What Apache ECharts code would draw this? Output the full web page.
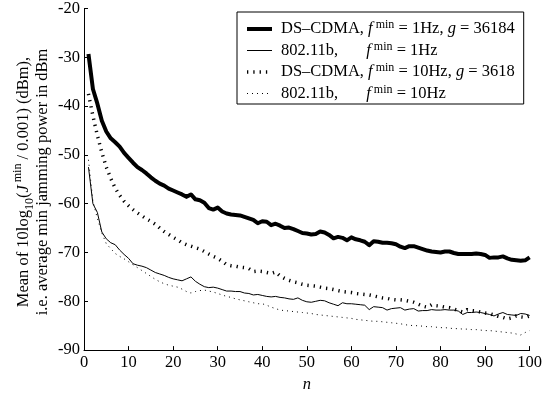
<!DOCTYPE html>
<html><head><meta charset="utf-8">
<script src="https://cdn.jsdelivr.net/npm/echarts@6/dist/echarts.min.js"></script>
<style>html,body{margin:0;padding:0;background:#fff}#c{width:545px;height:398px}</style>
</head><body><div id="c"></div>
<script>
const nValues = [1,2,3,4,5,6,7,8,9,10,11,12,13,14,15,16,17,18,19,20,21,22,23,24,25,26,27,28,29,30,31,32,33,34,35,36,37,38,39,40,41,42,43,44,45,46,47,48,49,50,51,52,53,54,55,56,57,58,59,60,61,62,63,64,65,66,67,68,69,70,71,72,73,74,75,76,77,78,79,80,81,82,83,84,85,86,87,88,89,90,91,92,93,94,95,96,97,98,99,100];

const dsCdma1Hz = [-29.3,-36.5,-39.5,-43.0,-45.2,-46.6,-47.4,-48.3,-49.6,-50.6,
  -51.6,-52.5,-53.1,-53.8,-54.6,-55.3,-55.9,-56.3,-56.9,-57.3,
  -57.7,-58.1,-58.6,-58.1,-59.1,-59.3,-59.8,-60.9,-61.2,-60.8,
  -61.6,-62.0,-62.2,-62.3,-62.4,-62.7,-63.0,-63.3,-64.0,-63.6,
  -63.7,-64.4,-64.1,-64.5,-65.0,-64.9,-65.2,-65.6,-66.0,-66.1,
  -66.3,-66.2,-65.7,-65.9,-66.4,-67.1,-66.8,-67.0,-67.5,-66.9,
  -67.3,-67.5,-67.8,-68.5,-67.7,-67.8,-68.0,-68.0,-68.1,-68.3,
  -68.8,-69.1,-68.7,-68.7,-69.0,-69.3,-69.6,-69.8,-69.9,-70.0,
  -69.8,-69.8,-70.1,-70.3,-70.3,-70.3,-70.3,-70.2,-70.3,-70.5,
  -71.1,-71.0,-71.0,-70.8,-71.2,-71.5,-71.6,-71.7,-71.6,-71.0];

const wlan1Hz = [-52.5,-60.0,-61.8,-65.8,-67.2,-68.0,-68.4,-69.5,-70.4,-71.2,
  -72.3,-72.6,-72.8,-73.1,-73.6,-74.1,-74.4,-74.7,-75.1,-75.4,
  -75.6,-75.8,-75.4,-75.0,-75.9,-76.5,-77.0,-77.2,-77.1,-77.3,
  -77.6,-77.9,-77.9,-78.0,-78.0,-78.3,-78.4,-78.7,-78.6,-78.8,
  -79.0,-79.1,-79.0,-79.2,-79.3,-79.5,-79.6,-79.3,-79.8,-80.1,
  -80.2,-80.0,-79.8,-79.9,-80.3,-80.6,-80.9,-80.3,-80.5,-80.5,
  -80.6,-80.7,-80.8,-81.7,-81.1,-81.2,-81.3,-81.8,-81.5,-81.4,
  -81.3,-81.8,-81.6,-81.5,-82.0,-81.9,-81.9,-81.7,-81.8,-81.8,
  -81.7,-81.8,-81.8,-82.0,-82.7,-82.3,-82.3,-82.2,-82.3,-82.5,
  -82.7,-83.0,-82.6,-82.3,-82.7,-82.8,-82.9,-82.5,-82.6,-82.9];

const dsCdma10Hz = [-37.5,-42.0,-46.0,-49.5,-52.5,-54.8,-56.8,-58.3,-59.5,-60.4,
  -61.2,-61.9,-62.5,-63.1,-63.6,-64.2,-65.0,-65.7,-66.3,-66.9,
  -67.4,-68.0,-68.4,-68.7,-69.0,-69.3,-69.8,-70.3,-70.8,-71.2,
  -71.8,-72.5,-72.7,-72.8,-73.0,-73.1,-73.3,-73.9,-73.8,-73.9,
  -74.1,-74.3,-74.0,-74.8,-75.3,-75.7,-76.0,-76.2,-76.5,-76.7,
  -76.8,-76.9,-77.1,-77.3,-77.4,-77.6,-77.8,-78.0,-78.1,-78.2,
  -78.4,-78.5,-78.6,-78.7,-78.9,-79.1,-79.3,-79.4,-79.6,-79.7,
  -79.7,-79.8,-80.0,-80.2,-80.6,-81.0,-81.2,-80.7,-80.9,-81.0,
  -81.2,-81.3,-81.6,-81.9,-82.2,-81.7,-81.9,-82.0,-82.2,-82.4,
  -82.5,-82.8,-83.1,-83.3,-83.6,-83.4,-83.0,-83.2,-83.3,-83.0];

const wlan10Hz = [-51.0,-59.5,-63.0,-66.0,-68.2,-69.2,-70.2,-70.8,-71.3,-71.9,
  -72.5,-73.1,-73.7,-74.3,-74.9,-75.5,-76.0,-76.4,-76.7,-76.9,
  -77.1,-77.5,-78.0,-78.3,-78.0,-77.8,-77.7,-77.9,-78.1,-78.4,
  -78.7,-79.0,-79.2,-79.5,-79.7,-79.9,-80.1,-80.3,-80.5,-80.5,
  -80.8,-81.2,-81.5,-81.8,-81.9,-82.0,-82.1,-82.2,-82.3,-82.4,
  -82.5,-82.7,-82.8,-82.9,-83.0,-83.1,-83.2,-83.3,-83.4,-83.5,
  -83.7,-83.8,-83.9,-84.0,-84.1,-84.1,-84.2,-84.3,-84.4,-84.5,
  -84.6,-84.8,-84.9,-85.0,-85.0,-85.1,-85.2,-85.2,-85.3,-85.4,
  -85.4,-85.5,-85.6,-85.6,-85.7,-85.7,-85.8,-85.8,-85.9,-86.0,
  -86.0,-86.1,-86.2,-86.3,-86.4,-86.5,-86.7,-86.9,-86.4,-86.0];

const seriesNames = ['DS-CDMA 1Hz', '802.11b 1Hz', 'DS-CDMA 10Hz', '802.11b 10Hz'];
const legendLabels = {
  'DS-CDMA 1Hz': '{t|DS\u2013CDMA, }{i|f}{sup| min}{t| = 1Hz, }{i|g}{t| = 36184}',
  '802.11b 1Hz': '{t|802.11b, }{g| }{i|f}{sup| min}{t| = 1Hz}',
  'DS-CDMA 10Hz': '{t|DS\u2013CDMA, }{i|f}{sup| min}{t| = 10Hz, }{i|g}{t| = 3618}',
  '802.11b 10Hz': '{t|802.11b, }{g| }{i|f}{sup| min}{t| = 10Hz}'
};
const yNameLine1 = '{t|Mean of 10log}{sub|10}{t|(}{i|J}{sup| min}{t| / 0.001) (dBm),}';
const yNameLine2 = 'i.e. average min jamming power in dBm';
const xName = 'n';
const xTicks = [0,10,20,30,40,50,60,70,80,90,100];
const yTicks = [-90,-80,-70,-60,-50,-40,-30,-20];

const FONT = 'Liberation Serif';
const FS = 16.5;
const FSS = 12;
function pairs(vals){ return vals.map((v,i)=>[nValues[i], v]); }

const styles = [
  {color: '#000', width: 4, join: 'round'},
  {color: '#000', width: 1},
  {color: '#000', width: 3.5, type: [1.3, 5], cap: 'butt'},
  {color: '#000', width: 1, type: [1, 4], cap: 'butt'}
];

const richY = {
  t: {fontFamily: FONT, fontSize: FS, fill: '#000', lineHeight: 24},
  i: {fontFamily: FONT, fontSize: FS, fontStyle: 'italic', fill: '#000', lineHeight: 24},
  sup: {fontFamily: FONT, fontSize: FSS, fill: '#000', lineHeight: 12, verticalAlign: 'top'},
  sub: {fontFamily: FONT, fontSize: FSS, fill: '#000', lineHeight: 12, verticalAlign: 'bottom'}
};

const chart = echarts.init(document.getElementById('c'), null, {renderer:'canvas'});
chart.setOption({
  animation: false,
  backgroundColor: '#fff',
  color: ['#000','#000','#000','#000'],
  grid: {left: 84, right: 15, top: 5, bottom: 43, containLabel: false},
  xAxis: {
    type: 'value', min: xTicks[0], max: xTicks[xTicks.length-1], interval: 10,
    name: xName, nameLocation: 'middle', nameGap: 21,
    nameTextStyle: {fontFamily: FONT, fontSize: FS, fontStyle: 'italic', color: '#000'},
    axisLine: {show: true, lineStyle: {color: '#000', width: 1}},
    axisTick: {show: true, inside: true, length: 4, lineStyle: {color: '#000'}},
    axisLabel: {fontFamily: FONT, fontSize: FS, color: '#000', margin: 4},
    splitLine: {show: false}
  },
  yAxis: {
    type: 'value', min: yTicks[0], max: yTicks[yTicks.length-1], interval: 10,
    axisLine: {show: true, onZero: false, lineStyle: {color: '#000', width: 1}},
    axisTick: {show: true, inside: true, length: 4, lineStyle: {color: '#000'}},
    axisLabel: {fontFamily: FONT, fontSize: FS, color: '#000', margin: 4},
    splitLine: {show: false}
  },
  graphic: [
    {type: 'text', x: 24, y: 182, rotation: Math.PI/2,
     style: {text: yNameLine1, align: 'center', verticalAlign: 'middle',
             fontFamily: FONT, fontSize: FS, fill: '#000', rich: richY}},
    {type: 'text', x: 43, y: 182, rotation: Math.PI/2,
     style: {text: yNameLine2, align: 'center', verticalAlign: 'middle',
             fontFamily: FONT, fontSize: FS, fill: '#000'}}
  ],
  legend: {
    orient: 'vertical', left: 237, top: 12,
    padding: [7, 9, 2, 8], itemGap: 3, itemWidth: 25, itemHeight: 14,
    borderColor: '#000', borderWidth: 1, backgroundColor: '#fff',
    itemStyle: {opacity: 0},
    data: seriesNames.map((nm, k) => ({name: nm, lineStyle: styles[k], itemStyle: {opacity: 0}})),
    formatter: name => legendLabels[name],
    textStyle: {
      fontFamily: FONT, fontSize: FS, color: '#000', padding: [0,0,0,4],
      rich: {
        t: {fontFamily: FONT, fontSize: FS, color: '#000', lineHeight: 20},
        i: {fontFamily: FONT, fontSize: FS, fontStyle: 'italic', color: '#000', lineHeight: 20},
        sup: {fontFamily: FONT, fontSize: FSS, color: '#000', lineHeight: 11, verticalAlign: 'top'},
        g: {fontFamily: FONT, fontSize: FS, width: 24, lineHeight: 20}
      }
    }
  },
  series: seriesNames.map((nm, k) => ({
    name: nm, type: 'line', symbol: 'none',
    data: pairs([dsCdma1Hz, wlan1Hz, dsCdma10Hz, wlan10Hz][k]),
    itemStyle: {color: '#000'}, lineStyle: styles[k]
  }))
});
</script>
</body></html>
